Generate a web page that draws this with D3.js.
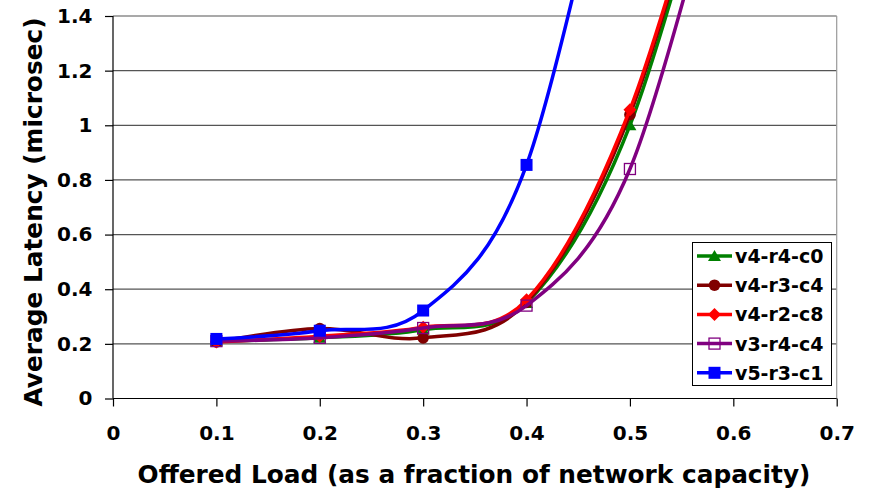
<!DOCTYPE html>
<html>
<head>
<meta charset="utf-8">
<script src="https://cdn.jsdelivr.net/npm/d3@7"></script>
<style>
  body { margin: 0; background: #fff; }
  svg text { font-family: Verdana, "DejaVu Sans", sans-serif; font-weight: bold; fill: #000; }
</style>
</head>
<body>
<div id="chart"></div>
<script>
// offered load values (x) and latencies per configuration
const loads = [0.1, 0.2, 0.3, 0.4, 0.5, 0.6];
const v4r4c0 = [0.21, 0.222, 0.252, 0.35, 1.0, 2.28];
const v4r3c4 = [0.207, 0.256, 0.222, 0.352, 1.039, 2.3];
const v4r2c8 = [0.207, 0.228, 0.261, 0.361, 1.057, 2.31];
const v3r4c4 = [0.21, 0.222, 0.258, 0.34, 0.84, 2.15];
const v5r3c1 = [0.218, 0.248, 0.322, 0.855, 2.4];

const seriesNames = ["v4-r4-c0", "v4-r3-c4", "v4-r2-c8", "v3-r4-c4", "v5-r3-c1"];
const xTicks = [0, 0.1, 0.2, 0.3, 0.4, 0.5, 0.6, 0.7];
const yTicks = [0, 0.2, 0.4, 0.6, 0.8, 1, 1.2, 1.4];

const width = 869, height = 490;
const series = [
  {name: seriesNames[0], values: v4r4c0, color: "#008000", marker: "triangle"},
  {name: seriesNames[1], values: v4r3c4, color: "#800000", marker: "circle"},
  {name: seriesNames[2], values: v4r2c8, color: "#ff0000", marker: "diamond"},
  {name: seriesNames[3], values: v3r4c4, color: "#800080", marker: "opensquare"},
  {name: seriesNames[4], values: v5r3c1, color: "#0000ff", marker: "square"}
];

const svg = d3.select("#chart").append("svg").attr("width", width).attr("height", height);

const x = d3.scaleLinear().domain([0, 0.7]).range([113, 836.7]);
const y = d3.scaleLinear().domain([0, 1.4]).range([398.5, 16]);
const fmt = d => String(+d.toFixed(1));

// gridlines
svg.append("g").selectAll("line").data(yTicks.slice(1)).enter().append("line")
  .attr("x1", x(0)).attr("x2", x(0.7))
  .attr("y1", d => y(d)).attr("y2", d => y(d))
  .attr("stroke", "#555").attr("stroke-width", 1.2);
// right border of plot area
svg.append("line")
  .attr("x1", x(0.7)).attr("x2", x(0.7)).attr("y1", y(1.4)).attr("y2", y(0))
  .attr("stroke", "#999").attr("stroke-width", 1.2);

const xAxis = d3.axisBottom(x).tickValues(xTicks).tickFormat(fmt).tickSize(8).tickPadding(19);
const yAxis = d3.axisLeft(y).tickValues(yTicks).tickFormat(fmt).tickSize(8).tickPadding(12.5);

const gx = svg.append("g").attr("transform", "translate(0," + y(0) + ")").call(xAxis);
const gy = svg.append("g").attr("transform", "translate(" + x(0) + ",0)").call(yAxis);
[gx, gy].forEach(g => {
  g.select(".domain").attr("stroke", "#000").attr("stroke-width", 1.2);
  g.selectAll(".tick line").attr("stroke", "#000").attr("stroke-width", 1.2);
  g.selectAll(".tick text").style("font-size", "20px");
});
gx.select(".domain").attr("d", "M" + x(0) + ",0H" + x(0.7));
gy.select(".domain").attr("d", "M0," + y(1.4) + "V" + y(0));

function drawMarker(g, type, color) {
  if (type === "triangle") {
    g.append("path").attr("d", "M0,-6L6.5,5L-6.5,5Z").attr("fill", color);
  } else if (type === "circle") {
    g.append("circle").attr("r", 5.8).attr("fill", color);
  } else if (type === "diamond") {
    g.append("path").attr("d", "M0,-6.5L6.5,0L0,6.5L-6.5,0Z").attr("fill", color);
  } else if (type === "opensquare") {
    g.append("rect").attr("x", -5.5).attr("y", -5.5).attr("width", 11).attr("height", 11)
      .attr("fill", "none").attr("stroke", color).attr("stroke-width", 1.3);
  } else {
    g.append("rect").attr("x", -6).attr("y", -6).attr("width", 12).attr("height", 12).attr("fill", color);
  }
}

const line = d3.line()
  .x((d, i) => x(loads[i]))
  .y(d => y(d))
  .curve(d3.curveCardinal.tension(0));

series.forEach(s => {
  const g = svg.append("g");
  g.append("path").datum(s.values).attr("d", line)
    .attr("fill", "none").attr("stroke", s.color).attr("stroke-width", 3.5);
  s.values.forEach((v, i) => {
    if (v > 1.45) return;
    drawMarker(g.append("g").attr("transform", "translate(" + x(loads[i]) + "," + y(v) + ")"), s.marker, s.color);
  });
});

// legend
const lg = svg.append("g");
lg.append("rect").attr("x", 692.5).attr("y", 242.5).attr("width", 139).attr("height", 143)
  .attr("fill", "#fff").attr("stroke", "#000").attr("stroke-width", 1);
series.forEach((s, i) => {
  const ry = 256 + i * 29.2;
  lg.append("line").attr("x1", 697).attr("x2", 732).attr("y1", ry).attr("y2", ry)
    .attr("stroke", s.color).attr("stroke-width", 3.5);
  drawMarker(lg.append("g").attr("transform", "translate(714.5," + ry + ")"), s.marker, s.color);
  lg.append("text").attr("x", 735).attr("y", ry + 7).style("font-size", "19px").text(s.name);
});

// axis titles
svg.append("text")
  .attr("x", 474).attr("y", 483)
  .attr("text-anchor", "middle")
  .style("font-size", "24.8px")
  .text("Offered Load (as a fraction of network capacity)");

svg.append("text")
  .attr("transform", "translate(42,212) rotate(-90)")
  .attr("text-anchor", "middle")
  .style("font-size", "24.8px")
  .text("Average Latency (microsec)");
</script>
</body>
</html>
